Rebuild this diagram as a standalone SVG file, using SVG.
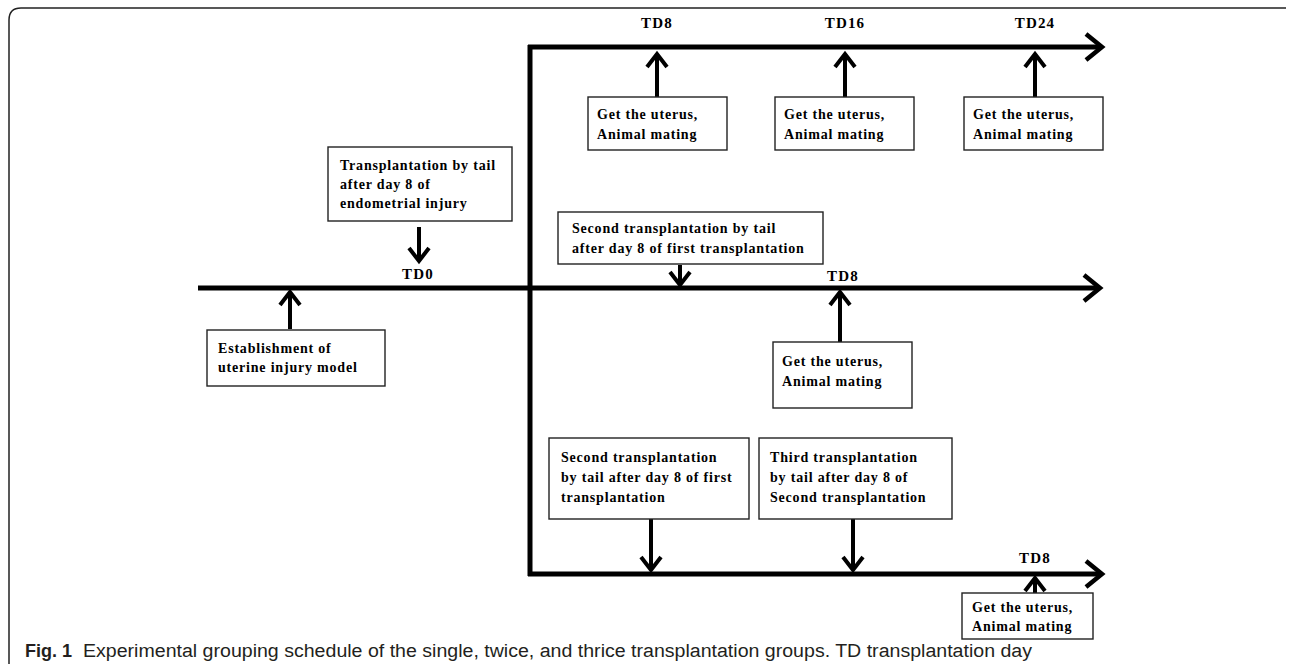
<svg xmlns="http://www.w3.org/2000/svg" width="1290" height="666" viewBox="0 0 1290 666">
<style>
.ln{stroke:#000;stroke-width:5;fill:none}
.ar{stroke:#000;stroke-width:4;fill:none}
.bx{fill:#fff;stroke:#222;stroke-width:1.4}
.t{font-family:"Liberation Serif","Times New Roman",serif;font-weight:bold;font-size:14px;letter-spacing:0.8px;fill:#000}
.lb{font-family:"Liberation Serif","Times New Roman",serif;font-weight:bold;font-size:15px;letter-spacing:1.2px;fill:#000;text-anchor:middle}
.cap{font-family:"Liberation Sans",Arial,sans-serif;font-size:18px;fill:#231f20}
</style>
<defs>
<marker id="big" viewBox="-22 -16 26 32" refX="0" refY="0" markerWidth="26" markerHeight="32" markerUnits="userSpaceOnUse" orient="auto">
<path d="M-16,-13 L0,0 L-16,13" stroke="#000" stroke-width="4.5" fill="none"/>
</marker>
<marker id="sm" viewBox="-18 -14 22 28" refX="0" refY="0" markerWidth="22" markerHeight="28" markerUnits="userSpaceOnUse" orient="auto">
<path d="M-13,-10 L0,0 L-13,10" stroke="#000" stroke-width="4" fill="none"/>
</marker>
</defs>
<rect width="1290" height="666" fill="#fff"/>
<path d="M9,664 L9,20 Q9,8 21,8 L1286,8" fill="none" stroke="#222" stroke-width="1.5"/>

<g id="connectors">
<line class="ln" x1="198" y1="288" x2="1100" y2="288" marker-end="url(#big)"/>
<line class="ln" x1="530" y1="45" x2="530" y2="576"/>
<line class="ln" x1="528" y1="47" x2="1102" y2="47" marker-end="url(#big)"/>
<line class="ln" x1="528" y1="574" x2="1102" y2="574" marker-end="url(#big)"/>
<line class="ar" x1="657" y1="97" x2="657" y2="54" marker-end="url(#sm)"/>
<line class="ar" x1="845" y1="97" x2="845" y2="54" marker-end="url(#sm)"/>
<line class="ar" x1="1035" y1="97" x2="1035" y2="54" marker-end="url(#sm)"/>
<line class="ar" x1="419" y1="227" x2="419" y2="261" marker-end="url(#sm)"/>
<line class="ar" x1="290" y1="329" x2="290" y2="292" marker-end="url(#sm)"/>
<line class="ar" x1="680" y1="265" x2="680" y2="285" marker-end="url(#sm)"/>
<line class="ar" x1="840" y1="342" x2="840" y2="292" marker-end="url(#sm)"/>
<line class="ar" x1="651" y1="519" x2="651" y2="570" marker-end="url(#sm)"/>
<line class="ar" x1="853" y1="519" x2="853" y2="570" marker-end="url(#sm)"/>
<line class="ar" x1="1035" y1="593" x2="1035" y2="578" marker-end="url(#sm)"/>
</g>

<g id="lbl-td8-top"><text class="lb" x="657" y="28">TD8</text></g>
<g id="lbl-td16"><text class="lb" x="845" y="28">TD16</text></g>
<g id="lbl-td24"><text class="lb" x="1035" y="28">TD24</text></g>
<g id="lbl-td0"><text class="lb" x="418" y="279">TD0</text></g>
<g id="lbl-td8-mid"><text class="lb" x="843" y="281">TD8</text></g>
<g id="lbl-td8-bot"><text class="lb" x="1035" y="563">TD8</text></g>

<g id="box-top1"><rect class="bx" x="588" y="97" width="139" height="53"/>
<text class="t" x="597" y="119">Get the uterus,</text><text class="t" x="597" y="139">Animal mating</text></g>
<g id="box-top2"><rect class="bx" x="775" y="97" width="139" height="53"/>
<text class="t" x="784" y="119">Get the uterus,</text><text class="t" x="784" y="139">Animal mating</text></g>
<g id="box-top3"><rect class="bx" x="964" y="97" width="139" height="53"/>
<text class="t" x="973" y="119">Get the uterus,</text><text class="t" x="973" y="139">Animal mating</text></g>

<g id="box-transplant"><rect class="bx" x="328" y="147" width="184" height="74"/>
<text class="t" x="340" y="170">Transplantation by tail</text>
<text class="t" x="340" y="189">after day 8 of</text>
<text class="t" x="340" y="208">endometrial injury</text></g>

<g id="box-establish"><rect class="bx" x="207" y="330" width="178" height="56"/>
<text class="t" x="218" y="353">Establishment of</text>
<text class="t" x="218" y="372">uterine injury model</text></g>

<g id="box-second-mid"><rect class="bx" x="558" y="212" width="265" height="52"/>
<text class="t" x="572" y="233">Second transplantation by tail</text>
<text class="t" x="572" y="253">after  day 8 of first transplantation</text></g>

<g id="box-mid-get"><rect class="bx" x="773" y="342" width="139" height="66"/>
<text class="t" x="782" y="366">Get the uterus,</text><text class="t" x="782" y="386">Animal mating</text></g>

<g id="box-second-bot"><rect class="bx" x="549" y="438" width="200" height="81"/>
<text class="t" x="561" y="462">Second transplantation</text>
<text class="t" x="561" y="482">by tail after  day 8 of first</text>
<text class="t" x="561" y="502">transplantation</text></g>

<g id="box-third-bot"><rect class="bx" x="759" y="438" width="193" height="81"/>
<text class="t" x="770" y="462">Third transplantation</text>
<text class="t" x="770" y="482">by tail after  day 8 of</text>
<text class="t" x="770" y="502">Second transplantation</text></g>

<g id="box-bot-get"><rect class="bx" x="962" y="593" width="131" height="46"/>
<text class="t" x="972" y="612">Get the uterus,</text><text class="t" x="972" y="631">Animal mating</text></g>

<g id="caption">
<text class="cap" x="25" y="657" font-weight="bold">Fig. 1</text>
<text class="cap" x="83" y="657" textLength="949" lengthAdjust="spacingAndGlyphs">Experimental grouping schedule of the single, twice, and thrice transplantation groups. TD transplantation day</text>
</g>
</svg>
